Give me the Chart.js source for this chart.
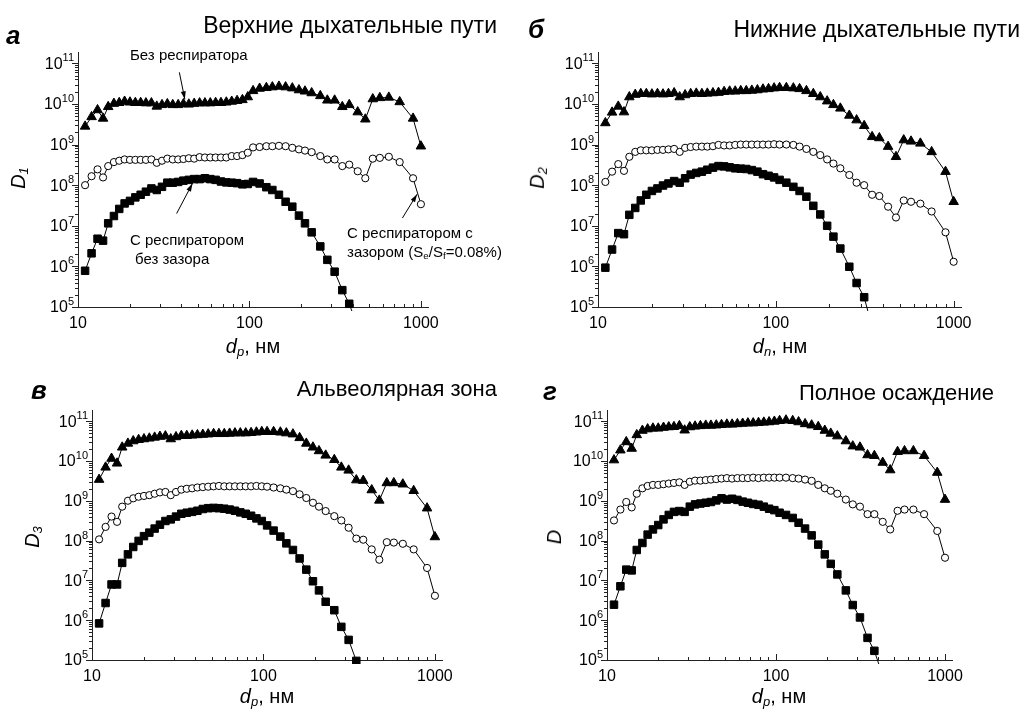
<!DOCTYPE html>
<html>
<head>
<meta charset="utf-8">
<script src="https://cdn.jsdelivr.net/npm/chart.js@4.4.1/dist/chart.umd.min.js"></script>
<style>
  body { margin: 0; background: #fff; }
  #page { position: relative; width: 1025px; height: 715px; overflow: hidden;
          font-family: "Liberation Sans", Arial, sans-serif; color: #000; }
  canvas { position: absolute; }
  .t { position: absolute; white-space: nowrap; line-height: 1; }
  .title { font-size: 22px; }
  .big { font-size: 23px; }
  .letter { font-size: 26px; font-style: italic; font-weight: bold; }
  .note { font-size: 15px; }
  .yt { font-size: 20px; font-style: italic; transform: translate(-50%, -50%) rotate(-90deg); }
  .xt { font-size: 20px; transform: translateX(-50%); }
  sub { font-size: 65%; vertical-align: -0.25em; }
</style>
</head>
<body>
<div id="page">
  <canvas id="cA" width="470" height="318" style="left:0;top:32px"></canvas>
  <canvas id="cB" width="500" height="318" style="left:512px;top:32px"></canvas>
  <canvas id="cC" width="470" height="318" style="left:0;top:390px"></canvas>
  <canvas id="cD" width="500" height="318" style="left:512px;top:390px"></canvas>

  <div class="t letter" style="left:6px;top:22px">а</div>
  <div class="t letter" style="left:528px;top:16px">б</div>
  <div class="t letter" style="left:31px;top:377px">в</div>
  <div class="t letter" style="left:543px;top:378px">г</div>

  <div class="t title big" style="right:528px;top:14px">Верхние дыхательные пути</div>
  <div class="t title big" style="right:5px;top:18px">Нижние дыхательные пути</div>
  <div class="t title" style="right:528px;top:378px">Альвеолярная зона</div>
  <div class="t title" style="right:31px;top:382px">Полное осаждение</div>

  <div class="t yt" style="left:19px;top:178px">D<sub>1</sub></div>
  <div class="t yt" style="left:538px;top:178px">D<sub>2</sub></div>
  <div class="t yt" style="left:33px;top:537px">D<sub>3</sub></div>
  <div class="t yt" style="left:554px;top:537px">D</div>

  <div class="t xt" style="left:253px;top:336px"><i>d<sub>p</sub></i>, нм</div>
  <div class="t xt" style="left:780px;top:336px"><i>d<sub>n</sub></i>, нм</div>
  <div class="t xt" style="left:267px;top:686px"><i>d<sub>p</sub></i>, нм</div>
  <div class="t xt" style="left:779px;top:686px"><i>d<sub>p</sub></i>, нм</div>

  <div class="t note" style="left:130px;top:47px">Без респиратора</div>
  <div class="t note" style="left:130px;top:232px">С респиратором</div>
  <div class="t note" style="left:135px;top:251px">без зазора</div>
  <div class="t note" style="left:347px;top:225px">С респиратором с</div>
  <div class="t note" style="left:347px;top:244px">зазором (S<sub>e</sub>/S<sub>f</sub>=0.08%)</div>
</div>
<script>
// particle diameter, nm
const diam = [11, 12, 13, 14, 15, 16.2, 17.4, 18.7, 20.1, 21.6, 23.2, 24.9, 26.8, 28.8, 30.9, 33.2, 35.7, 38.4,
  41.2, 44.3, 47.6, 51.2, 55, 59.1, 63.5, 68.2, 73.3, 78.8, 84.7, 91, 97.8, 105, 114.6, 125.5, 136, 148.6,
  162.5, 177.8, 194.4, 210.8, 230.6, 259, 284.6, 313.9, 348, 382, 428, 474, 524, 576, 650, 752, 900, 1000];

// а - upper airways
const upperNoResp = [2.8e9, 4.8e9, 7.1e9, 4.4e9, 8.5e9, 1.02e10, 1.07e10, 1.15e10, 1.1e10, 1.07e10,
  1.07e10, 1.05e10, 1.05e10, 8.7e9, 9.5e9, 1e10, 9.5e9, 9.5e9, 1e10, 9.8e9,
  1.02e10, 1.05e10, 1.05e10, 1.05e10, 1.07e10, 1.07e10, 1.1e10, 1.15e10, 1.2e10, 1.26e10,
  1.48e10, 2.1e10, 2.4e10, 2.5e10, 2.6e10, 2.7e10, 2.6e10, 2.45e10, 2.2e10, 2.05e10,
  1.86e10, 1.58e10, 1.23e10, 1.23e10, 8.5e9, 9.5e9, 6.3e9, 4.2e9, 1.32e10, 1.41e10,
  1.45e10, 1.12e10, 4.4e9, 9.1e8];
const upperGap = [1e8, 1.66e8, 2.45e8, 1.55e8, 2.95e8, 3.7e8, 4e8, 4.3e8, 4.2e8, 4.2e8,
  4.2e8, 4.2e8, 4.3e8, 3.55e8, 4e8, 4.5e8, 4.3e8, 4.3e8, 4.4e8, 4.6e8,
  4.5e8, 4.9e8, 4.8e8, 4.8e8, 4.8e8, 4.8e8, 4.8e8, 5.2e8, 5.2e8, 5.5e8,
  6.3e8, 8.5e8, 8.7e8, 9.1e8, 9.1e8, 9.3e8, 9.1e8, 8.3e8, 7.6e8, 7.1e8,
  6.5e8, 5.2e8, 4.3e8, 4.3e8, 2.95e8, 3.2e8, 2.2e8, 1.48e8, 4.5e8, 4.7e8,
  5e8, 3.7e8, 1.48e8, 3.4e7];
const upperTight = [7.8e5, 2.1e6, 4.8e6, 4.3e6, 1.15e7, 1.74e7, 2.6e7, 3.55e7, 4.1e7, 5e7,
  5.8e7, 6.9e7, 8.3e7, 7.6e7, 9.1e7, 1.15e8, 1.15e8, 1.2e8, 1.29e8, 1.35e8,
  1.41e8, 1.41e8, 1.48e8, 1.41e8, 1.35e8, 1.23e8, 1.17e8, 1.15e8, 1.12e8, 1.05e8,
  1.07e8, 1.2e8, 1.1e8, 8.9e7, 7.6e7, 5.8e7, 3.9e7, 2.95e7, 1.78e7, 1.15e7,
  6.9e6, 3.1e6, 1.45e6, 7.4e5, 2.6e5, 1.2e5, 3.2e4];

// б - lower airways
const lowerNoResp = [3.4e9, 6.2e9, 8.7e9, 6.3e9, 1.48e10, 1.7e10, 1.78e10, 1.78e10, 1.74e10, 1.78e10,
  1.74e10, 1.78e10, 1.86e10, 1.48e10, 1.66e10, 1.78e10, 1.82e10, 1.78e10, 1.82e10, 1.86e10,
  1.9e10, 2e10, 2.05e10, 2.05e10, 2.1e10, 2.1e10, 2.15e10, 2.2e10, 2.3e10, 2.35e10,
  2.45e10, 2.5e10, 2.5e10, 2.45e10, 2.35e10, 2.1e10, 1.78e10, 1.48e10, 1.17e10, 9.5e9,
  7.8e9, 5.2e9, 4e9, 2.9e9, 1.55e9, 1.45e9, 8.9e8, 5e8, 1.29e9, 1.2e9,
  1.07e9, 6.6e8, 2.15e8, 3.9e7];
const lowerGap = [1.2e8, 2.15e8, 3.3e8, 2.25e8, 5e8, 6.6e8, 7.2e8, 7.2e8, 7.2e8, 7.4e8,
  7.4e8, 7.6e8, 7.8e8, 6.6e8, 8.3e8, 8.7e8, 8.9e8, 8.9e8, 8.9e8, 9.1e8,
  9.8e8, 9.5e8, 9.5e8, 9.8e8, 1e9, 1e9, 1e9, 1e9, 1e9, 1e9,
  1.02e9, 1e9, 1e9, 9.8e8, 8.9e8, 7.8e8, 6.6e8, 5.5e8, 4.3e8, 3.4e8,
  2.6e8, 1.78e8, 1.15e8, 1e8, 5.8e7, 5.4e7, 2.95e7, 1.6e7, 4.2e7, 3.9e7,
  3.5e7, 2.25e7, 6.9e6, 1.3e6];
const lowerTight = [9.3e5, 2.6e6, 6.6e6, 6.2e6, 1.86e7, 2.75e7, 4.2e7, 5.8e7, 7.2e7, 8.3e7,
  9.8e7, 1.1e8, 1.26e8, 1.15e8, 1.48e8, 1.82e8, 2e8, 2.15e8, 2.4e8, 2.7e8,
  2.95e8, 2.9e8, 2.75e8, 2.6e8, 2.55e8, 2.5e8, 2.35e8, 2.15e8, 1.86e8, 1.7e8,
  1.55e8, 1.35e8, 1.15e8, 9.1e7, 7.2e7, 5.2e7, 3.1e7, 1.9e7, 1e7, 5.4e6,
  2.75e6, 9.8e5, 3.9e5, 1.74e5, 3.2e4];

// в - alveolar region
const alvNoResp = [3.4e9, 6.9e9, 1.15e10, 8.7e9, 2.2e10, 2.75e10, 3.16e10, 3.4e10, 3.55e10, 3.7e10,
  3.9e10, 4.1e10, 4.2e10, 3.55e10, 4e10, 4.3e10, 4.3e10, 4.4e10, 4.5e10, 4.6e10,
  4.7e10, 4.8e10, 4.8e10, 4.8e10, 4.9e10, 5e10, 5e10, 5e10, 5.1e10, 5.25e10,
  5.4e10, 5.4e10, 5.4e10, 5.25e10, 5e10, 4.7e10, 3.8e10, 2.75e10, 2.2e10, 1.78e10,
  1.38e10, 1.07e10, 6.9e9, 5.8e9, 3.3e9, 3.2e9, 1.86e9, 1.02e9, 2.8e9, 2.8e9,
  2.6e9, 1.78e9, 6.5e8, 1.23e8];
const alvGap = [1.07e8, 2.2e8, 4e8, 2.95e8, 7.1e8, 1e9, 1.15e9, 1.26e9, 1.32e9, 1.38e9,
  1.5e9, 1.62e9, 1.66e9, 1.38e9, 1.66e9, 1.9e9, 2e9, 2.05e9, 2.15e9, 2.2e9,
  2.25e9, 2.3e9, 2.35e9, 2.3e9, 2.3e9, 2.3e9, 2.3e9, 2.3e9, 2.3e9, 2.35e9,
  2.3e9, 2.25e9, 2.15e9, 2.05e9, 1.9e9, 1.74e9, 1.45e9, 1.17e9, 8.9e8, 7.1e8,
  5.5e8, 4.1e8, 3.2e8, 2.1e8, 1.12e8, 1.05e8, 6e7, 3.3e7, 9.1e7, 8.9e7,
  8.3e7, 6e7, 2.05e7, 4.1e6];
const alvTight = [8.3e5, 2.7e6, 7.9e6, 7.9e6, 2.75e7, 4.5e7, 6.9e7, 9.8e7, 1.29e8, 1.58e8,
  2e8, 2.5e8, 3.1e8, 3.4e8, 4e8, 4.7e8, 5e8, 5.25e8, 5.6e8, 6.2e8,
  6.5e8, 6.6e8, 6.5e8, 6.3e8, 6e8, 5.6e8, 5.1e8, 4.7e8, 4.2e8, 3.6e8,
  3.1e8, 2.4e8, 1.78e8, 1.26e8, 8.5e7, 5.8e7, 3.55e7, 1.86e7, 9.5e6, 5.6e6,
  2.9e6, 1.78e6, 6.8e5, 3.2e5, 9.5e4, 3.2e4];

// г - total deposition
const totalNoResp = [1.05e10, 1.86e10, 3e10, 2.05e10, 4.5e10, 5.8e10, 6.3e10, 6.6e10, 6.6e10, 6.9e10,
  7.1e10, 7.2e10, 7.6e10, 5.9e10, 7.1e10, 7.4e10, 7.6e10, 7.8e10, 7.8e10, 7.9e10,
  8.1e10, 8.3e10, 8.3e10, 8.5e10, 8.7e10, 8.9e10, 8.9e10, 9.1e10, 9.3e10, 9.5e10,
  9.8e10, 1.02e11, 1.05e11, 1.02e11, 9.5e10, 8.5e10, 7.9e10, 7.2e10, 5.8e10, 4.9e10,
  4.2e10, 3.16e10, 2.35e10, 2.2e10, 1.41e10, 1.35e10, 9.1e9, 5.9e9, 1.7e10, 1.78e10,
  1.78e10, 1.35e10, 5.1e9, 1.07e9];
const totalGap = [3.2e8, 6e8, 9.3e8, 6.8e8, 1.5e9, 2.05e9, 2.35e9, 2.5e9, 2.5e9, 2.6e9,
  2.7e9, 2.8e9, 2.9e9, 2.5e9, 3e9, 3.2e9, 3.2e9, 3.3e9, 3.4e9, 3.5e9,
  3.6e9, 3.7e9, 3.6e9, 3.7e9, 3.7e9, 3.7e9, 3.8e9, 3.7e9, 3.8e9, 3.8e9,
  3.8e9, 3.8e9, 3.8e9, 3.7e9, 3.6e9, 3.4e9, 3.16e9, 2.5e9, 2.05e9, 1.78e9,
  1.5e9, 1.07e9, 8.1e8, 7.1e8, 4.6e8, 4.6e8, 2.95e8, 1.9e8, 5.6e8, 6e8,
  6e8, 4.6e8, 1.74e8, 3.7e7];
const totalTight = [2.45e6, 7.1e6, 1.86e7, 1.78e7, 5.8e7, 8.7e7, 1.41e8, 1.9e8, 2.45e8, 3.4e8,
  4.4e8, 5.25e8, 5.5e8, 5.25e8, 7.1e8, 8.1e8, 8.5e8, 8.9e8, 9.3e8, 1.02e9,
  1.15e9, 1.07e9, 1.12e9, 1.05e9, 9.5e8, 8.9e8, 8.3e8, 7.9e8, 7.1e8, 6.3e8,
  5.8e8, 5e8, 4.4e8, 3.7e8, 2.8e8, 2e8, 1.35e8, 7.9e7, 4.5e7, 2.6e7,
  1.41e7, 5.6e6, 2.4e6, 1.17e6, 3.6e5, 1.7e5, 4e4];

// axis ticks
const xMajor = [10, 100, 1000];
const xLabels = ['10', '100', '1000'];
const yMajor = [1e5, 1e6, 1e7, 1e8, 1e9, 1e10, 1e11];
const yExp = ['5', '6', '7', '8', '9', '10', '11'];

const withMinor = (majors, max) => {
  let out = [];
  majors.forEach(m => {
    for (let k = 1; k <= 9; k++) if (m * k <= max) out.push({ value: m * k, major: k == 1 });
  });
  return out;
};
const xTicks = withMinor(xMajor, 1000);
const yTicks = withMinor(yMajor, 1.9e11);

const FONT = '"Liberation Sans", Arial, sans-serif';
Chart.defaults.font.family = FONT;
Chart.defaults.color = '#000';

// tick marks (x inside, y outside) and the 10^n labels of the y axis
const axisDeco = {
  id: 'axisDeco',
  afterDraw(chart) {
    const { ctx, scales: { x, y } } = chart;
    ctx.save();
    ctx.strokeStyle = '#222';
    ctx.lineWidth = 1;
    ctx.beginPath();
    x.ticks.forEach(t => {
      const px = Math.round(x.getPixelForValue(t.value)) + 0.5;
      ctx.moveTo(px, y.bottom);
      ctx.lineTo(px, y.bottom - (t.major ? 6 : 3));
    });
    y.ticks.forEach(t => {
      const py = Math.round(y.getPixelForValue(t.value)) + 0.5;
      ctx.moveTo(x.left, py);
      ctx.lineTo(x.left - (t.major ? 6 : 3), py);
    });
    ctx.stroke();

    ctx.fillStyle = '#000';
    ctx.textAlign = 'right';
    yMajor.forEach((v, i) => {
      const py = y.getPixelForValue(v);
      const xr = x.left - 4;
      ctx.font = '11px ' + FONT;
      const w = ctx.measureText(yExp[i]).width;
      ctx.textBaseline = 'alphabetic';
      ctx.fillText(yExp[i], xr, py - 2);
      ctx.font = '16px ' + FONT;
      ctx.textBaseline = 'middle';
      ctx.fillText('10', xr - w, py + 1);
    });
    ctx.restore();
  }
};

// annotation arrows for panel а, in data units
const arrowsA = [
  { from: [39, 6e10], to: [42, 1.3e10] },
  { from: [37.6, 2e7], to: [46.5, 1.1e8] },
  { from: [780, 1.55e7], to: [950, 6e7] }
];
const arrowPlugin = {
  id: 'arrows',
  afterDatasetsDraw(chart, args, opts) {
    const { ctx, scales: { x, y } } = chart;
    (opts.list || []).forEach(a => {
      const x1 = x.getPixelForValue(a.from[0]), y1 = y.getPixelForValue(a.from[1]);
      const x2 = x.getPixelForValue(a.to[0]), y2 = y.getPixelForValue(a.to[1]);
      const ang = Math.atan2(y2 - y1, x2 - x1);
      ctx.save();
      ctx.strokeStyle = '#000'; ctx.fillStyle = '#000'; ctx.lineWidth = 1;
      ctx.beginPath(); ctx.moveTo(x1, y1); ctx.lineTo(x2, y2); ctx.stroke();
      ctx.beginPath();
      ctx.moveTo(x2, y2);
      ctx.lineTo(x2 - 8 * Math.cos(ang) + 2.5 * Math.sin(ang), y2 - 8 * Math.sin(ang) - 2.5 * Math.cos(ang));
      ctx.lineTo(x2 - 8 * Math.cos(ang) - 2.5 * Math.sin(ang), y2 - 8 * Math.sin(ang) + 2.5 * Math.cos(ang));
      ctx.closePath(); ctx.fill();
      ctx.restore();
    });
  }
};

const series = (vals, style, radius, fill) => ({
  data: vals.map((v, i) => ({ x: diam[i], y: v })),
  pointStyle: style,
  pointRadius: radius,
  pointBackgroundColor: fill,
  pointBorderColor: '#000',
  pointBorderWidth: 1,
  borderColor: '#000',
  borderWidth: 1,
  clip: { left: 10, top: 10, right: 10, bottom: 4 }
});

const makeChart = (id, sets, box, arrows) => new Chart(id, {
  type: 'line',
  data: {
    datasets: [
      series(sets[0], 'triangle', 5.5, '#000'),
      series(sets[1], 'circle', 3.6, '#fff'),
      series(sets[2], 'rect', 5.3, '#000')
    ]
  },
  options: {
    responsive: false,
    animation: false,
    devicePixelRatio: 1,
    layout: { padding: { left: 0, top: 20, right: box.right, bottom: box.bottom } },
    plugins: { legend: { display: false }, tooltip: { enabled: false }, arrows: { list: arrows } },
    scales: {
      x: {
        type: 'logarithmic', min: 10, max: 1100,
        afterBuildTicks: s => { s.ticks = xTicks.map(t => ({ ...t })); },
        afterFit: s => { s.height = 30; },
        grid: { display: false, drawTicks: false },
        border: { color: '#222' },
        ticks: { autoSkip: false, maxRotation: 0, padding: 7, font: { size: 16 },
                 callback: v => { const i = xMajor.indexOf(v); return i < 0 ? '' : xLabels[i]; } }
      },
      y: {
        type: 'logarithmic', min: 1e5, max: 1.9e11,
        afterBuildTicks: s => { s.ticks = yTicks.map(t => ({ ...t })); },
        afterFit: s => { s.width = box.yw; },
        grid: { display: false, drawTicks: false },
        border: { color: '#222' },
        ticks: { display: false }
      }
    }
  },
  plugins: [axisDeco, arrowPlugin]
});

makeChart('cA', [upperNoResp, upperGap, upperTight], { yw: 78, right: 42, bottom: 13 }, arrowsA);
makeChart('cB', [lowerNoResp, lowerGap, lowerTight], { yw: 86, right: 51, bottom: 13 }, []);
makeChart('cC', [alvNoResp, alvGap, alvTight], { yw: 92, right: 28, bottom: 18 }, []);
makeChart('cD', [totalNoResp, totalGap, totalTight], { yw: 95, right: 60, bottom: 18 }, []);
</script>
</body>
</html>
